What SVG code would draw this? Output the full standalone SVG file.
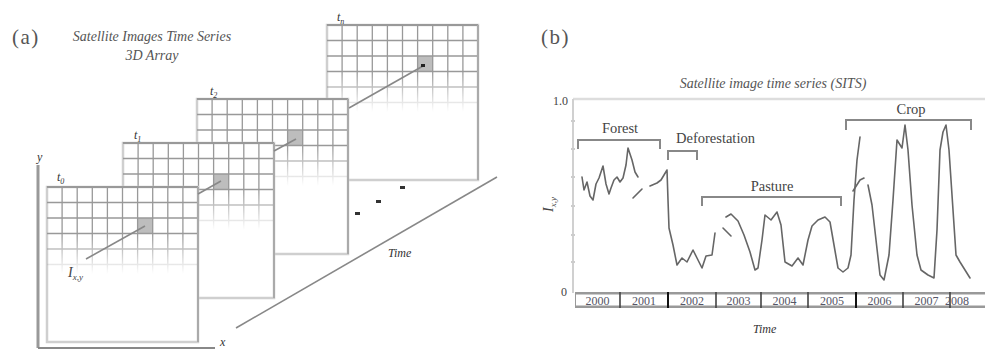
<svg xmlns="http://www.w3.org/2000/svg" width="985" height="349" viewBox="0 0 985 349">
<style>
text{font-family:"Liberation Serif","DejaVu Serif",serif;fill:#444}
.it{font-style:italic}
.ttl{font-size:14px;font-style:italic;fill:#555}
.pl{font-size:21px;fill:#555}
.lbl{font-size:12px;font-style:italic;fill:#333}
.sub{font-size:8px}
.br{fill:none;stroke:#888;stroke-width:2}
.bl{font-size:14.5px;fill:#444}
.yr{font-size:12px;fill:#556;text-anchor:middle}
.cv{fill:none;stroke:#666;stroke-width:1.6;stroke-linejoin:round;stroke-linecap:round}
.con{stroke:#888;stroke-width:1.6;fill:none}
.grid{fill:none;stroke:#999;stroke-width:1.3}
</style>
<defs>
<linearGradient id="fade" x1="0" y1="0" x2="0" y2="1">
<stop offset="0" stop-color="#fff"/>
<stop offset="0.3" stop-color="#fff"/>
<stop offset="0.56" stop-color="#000"/>
</linearGradient>
<mask id="gm" maskContentUnits="objectBoundingBox"><rect width="1" height="1" fill="url(#fade)"/></mask>
<g id="frame">
<rect x="0" y="0" width="151" height="155" fill="#fff" stroke="#cfcfcf" stroke-width="2.5"/>
<rect x="91" y="31" width="15" height="15.5" fill="#bdbdbd"/>
<g mask="url(#gm)">
<path class="grid" d="M15.1 0V155M30.2 0V155M45.3 0V155M60.4 0V155M75.5 0V155M90.6 0V155M105.7 0V155M120.8 0V155M135.9 0V155M0 15.5H151M0 31H151M0 46.5H151M0 62H151M0 77.5H151M0 93H151M0 108.5H151M0 124H151M0 139.5H151"/>
</g>
<line x1="0" y1="0" x2="151" y2="0" stroke="#999" stroke-width="2"/>
<line x1="151" y1="0" x2="151" y2="155" stroke="#aaa" stroke-width="2"/>
</g>
</defs>
<rect width="985" height="349" fill="#fff"/>

<!-- Panel (a) -->
<g id="label-a"><text class="pl" x="12" y="44" letter-spacing="1.5">(a)</text></g>
<g id="title-a">
<text class="ttl" x="152" y="41" text-anchor="middle">Satellite Images Time Series</text>
<text class="ttl" x="152" y="60" text-anchor="middle">3D Array</text>
</g>

<g id="axes-a">
<line x1="38" y1="165" x2="38" y2="348" stroke="#999" stroke-width="3"/>
<line x1="38" y1="348" x2="215" y2="348" stroke="#888" stroke-width="2"/>
<text class="lbl" x="37" y="161">y</text>
<text class="lbl" x="220" y="346">x</text>
</g>

<g id="frame-tn">
<use href="#frame" transform="translate(327,25)"/>
<text class="lbl" x="337" y="21">t<tspan class="sub" dy="3">n</tspan></text>
</g>
<g id="frame-t2">
<use href="#frame" transform="translate(197,99)"/>
<text class="lbl" x="210" y="95">t<tspan class="sub" dy="3">2</tspan></text>
</g>
<g id="frame-t1">
<use href="#frame" transform="translate(123,143)"/>
<text class="lbl" x="134" y="139">t<tspan class="sub" dy="3">1</tspan></text>
</g>
<g id="frame-t0">
<use href="#frame" transform="translate(47,187)"/>
<text class="lbl" x="57" y="181">t<tspan class="sub" dy="3">0</tspan></text>
</g>

<g id="pixel-label"><text class="it" x="68" y="277" font-size="14" fill="#555">I<tspan font-size="9" dy="3">x,y</tspan></text></g>

<g id="dots" fill="#333">
<rect x="355" y="212" width="5" height="3"/>
<rect x="376" y="200" width="5" height="3"/>
<rect x="400" y="186" width="5" height="3"/>
</g>

<g id="time-axis-a">
<line x1="236" y1="328" x2="497" y2="177" stroke="#888" stroke-width="1.6"/>
<text class="lbl" x="388" y="257" font-size="13" fill="#555">Time</text>
</g>

<g id="connectors">
<line class="con" x1="86" y1="259" x2="145" y2="226"/>
<line class="con" x1="198" y1="194" x2="221" y2="181"/>
<line class="con" x1="274" y1="151" x2="296" y2="139"/>
<line class="con" x1="349" y1="108" x2="423" y2="66"/>
<rect x="421" y="64" width="4" height="3" fill="#222"/>
</g>

<!-- Panel (b) -->
<g id="label-b"><text class="pl" x="541" y="44" letter-spacing="1.5">(b)</text></g>
<g id="title-b"><text class="ttl" x="773" y="88" text-anchor="middle">Satellite image time series (SITS)</text></g>

<g id="plot-axes">
<line x1="573" y1="99" x2="985" y2="99" stroke="#ddd" stroke-width="2.5"/>
<line x1="573" y1="99" x2="573" y2="293" stroke="#d0d0d0" stroke-width="2"/>
<path d="M571 121H575M571 149H575M571 177H575M571 206H575M571 235H575M571 262H575" stroke="#ccc" stroke-width="2"/>
<text x="553" y="105" font-size="12" fill="#555">1.0</text>
<text x="561" y="296" font-size="12" fill="#555">0</text>
<text class="it" font-size="14" fill="#555" transform="translate(553,212) rotate(-90)">I<tspan font-size="9" dy="3">x,y</tspan></text>
</g>

<g id="year-bar">
<rect x="575" y="292" width="412" height="16" fill="#999"/>
<rect x="576" y="294.5" width="410" height="11" fill="#fff"/>
<path d="M620 292V308M716 292V308M761 292V308M808 292V308M903 292V308M950 292V308" stroke="#444" stroke-width="1.6"/>
<path d="M668 292V308M856 292V308" stroke="#111" stroke-width="2"/>
<text class="yr" x="597.5" y="304.5">2000</text>
<text class="yr" x="644" y="304.5">2001</text>
<text class="yr" x="692" y="304.5">2002</text>
<text class="yr" x="738.5" y="304.5">2003</text>
<text class="yr" x="784.5" y="304.5">2004</text>
<text class="yr" x="832" y="304.5">2005</text>
<text class="yr" x="879.5" y="304.5">2006</text>
<text class="yr" x="926.5" y="304.5">2007</text>
<text class="yr" x="957" y="304.5" text-anchor="start">2008</text>
<text class="lbl" x="753" y="333" font-size="13" fill="#555">Time</text>
</g>

<g id="brackets">
<path class="br" d="M578 149V140H660V149"/>
<text class="bl" x="620" y="133" text-anchor="middle">Forest</text>
<path class="br" d="M668 160V151H697V160"/>
<text class="bl" x="676" y="143">Deforestation</text>
<path class="br" d="M702 206V197H841V206"/>
<text class="bl" x="772" y="191" text-anchor="middle">Pasture</text>
<path class="br" d="M846 130V120H971V130"/>
<text class="bl" x="911" y="114" text-anchor="middle">Crop</text>
</g>

<g id="series">
<polyline class="cv" points="582,177 584,190 587,182 590,196 593,200 596,184 599,178 603,166 606,184 609,194 611,188 614,180 617,177 620,182 623,178 626,165 628,148 632,160 635,172 638,177"/>
<polyline class="cv" points="633,198 642,189"/>
<polyline class="cv" points="650,186 657,183 661,180 667,170 668,200 669,228 673,245 677,265 682,258 687,262 693,250 697,258 702,268 706,256 712,255 715,233"/>
<polyline class="cv" points="723,228 731,236"/>
<polyline class="cv" points="726,217 731,214 738,221 744,235 750,252 755,270 758,268 762,240 765,215 771,220 777,212 781,225 785,262 792,266 798,258 803,265 808,240 812,226 818,220 825,217 830,222 834,245 838,268 843,272 848,268 851,255 854,200 857,160 860,137"/>
<polyline class="cv" points="853,191 860,180 864,178"/>
<polyline class="cv" points="868,185 872,205 876,240 880,275 884,280 889,255 893,200 897,140 902,148 905,125 908,150 912,205 917,255 921,270 928,275 934,278 937,230 940,150 943,132 946,125 949,150 953,210 956,255 960,262 965,270 970,278"/>
</g>
</svg>
